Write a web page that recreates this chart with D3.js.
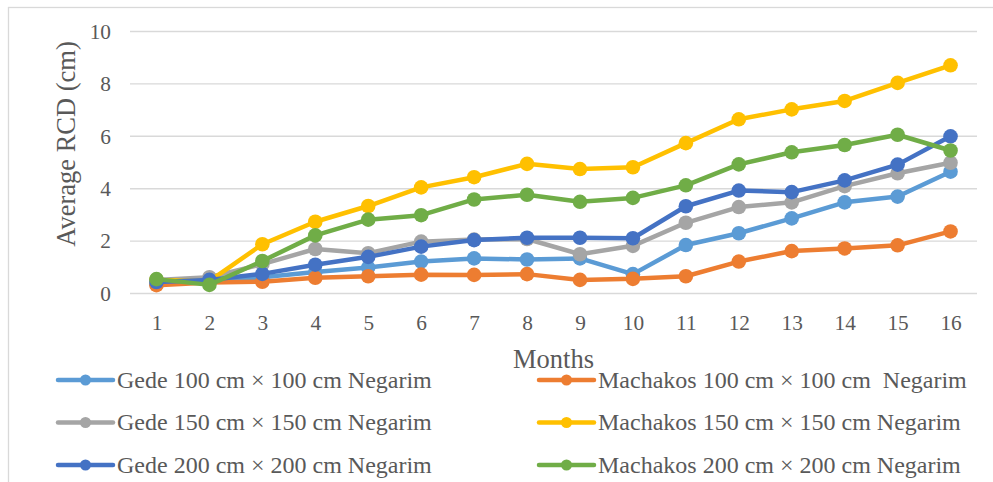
<!DOCTYPE html>
<html>
<head>
<meta charset="utf-8" />
<title>Average RCD</title>
<script src="https://cdnjs.cloudflare.com/ajax/libs/d3/7.8.5/d3.min.js"></script>
<style>
  body { margin: 0; background: #fff; }
  svg text { font-family: "Liberation Serif", "Times New Roman", serif; fill: #595959; }
</style>
</head>
<body>
<svg id="chart" width="993" height="482"></svg>
<script>
  // data
  const months = ['1','2','3','4','5','6','7','8','9','10','11','12','13','14','15','16']
  const yTicks = [0, 2, 4, 6, 8, 10]

  const gede100     = [0.35, 0.45, 0.6, 0.8, 0.97, 1.2, 1.32, 1.28, 1.32, 0.72, 1.83, 2.28, 2.85, 3.46, 3.68, 4.63]
  const machakos100 = [0.3, 0.4, 0.43, 0.58, 0.64, 0.7, 0.69, 0.72, 0.5, 0.54, 0.64, 1.2, 1.6, 1.7, 1.82, 2.35]
  const gede150     = [0.5, 0.6, 1.1, 1.68, 1.52, 1.96, 2.04, 2.06, 1.48, 1.8, 2.68, 3.28, 3.46, 4.08, 4.57, 4.97]
  const machakos150 = [0.5, 0.45, 1.86, 2.72, 3.32, 4.03, 4.42, 4.93, 4.73, 4.8, 5.72, 6.63, 7.01, 7.33, 8.02, 8.69]
  const gede200     = [0.42, 0.5, 0.73, 1.08, 1.38, 1.77, 2.02, 2.11, 2.11, 2.09, 3.31, 3.91, 3.85, 4.3, 4.9, 5.98]
  const machakos200 = [0.53, 0.31, 1.22, 2.2, 2.8, 2.97, 3.57, 3.75, 3.48, 3.63, 4.11, 4.91, 5.37, 5.65, 6.04, 5.44]

  const seriesNames = [
    'Gede 100 cm \u00d7 100 cm Negarim',
    'Machakos 100 cm \u00d7 100 cm  Negarim',
    'Gede 150 cm \u00d7 150 cm Negarim',
    'Machakos 150 cm \u00d7 150 cm Negarim',
    'Gede 200 cm \u00d7 200 cm Negarim',
    'Machakos 200 cm \u00d7 200 cm Negarim'
  ]
  const seriesValues = [gede100, machakos100, gede150, machakos150, gede200, machakos200]
  const seriesColors = ['#5B9BD5', '#ED7D31', '#A5A5A5', '#FFC000', '#4472C4', '#70AD47']

  const svg = d3.select('#chart')

  // chart area frame (runs off the right and bottom edge)
  svg.append('rect')
    .attr('x', 8.5).attr('y', 7.5)
    .attr('width', 1100).attr('height', 600)
    .attr('fill', '#fff').attr('stroke', '#d9d9d9').attr('stroke-width', 1.3)

  const plotLeft = 130, plotRight = 977, plotTop = 31, plotBottom = 293

  let xScale = d3.scalePoint().domain(months).range([plotLeft, plotRight]).padding(0.5)
  let yScale = d3.scaleLinear().domain([0, 10]).range([plotBottom, plotTop])

  let yAxis = d3.axisLeft(yScale).tickValues(yTicks).tickSize(-(plotRight - plotLeft)).tickPadding(19)
  let gy = svg.append('g').attr('transform', 'translate(' + plotLeft + ',0)').call(yAxis)
  gy.select('.domain').remove()
  gy.selectAll('line').attr('stroke', '#d9d9d9').attr('stroke-width', 1.4)
  gy.selectAll('text').style('font-size', '21.3px').attr('dy', '0.34em')

  let xAxis = d3.axisBottom(xScale).tickSize(0).tickPadding(22)
  let gx = svg.append('g').attr('transform', 'translate(0,' + plotBottom + ')').call(xAxis)
  gx.select('.domain').remove()
  gx.selectAll('text').style('font-size', '21.3px')

  // axis titles
  svg.append('text')
    .attr('transform', 'translate(75,144) rotate(-90)')
    .attr('text-anchor', 'middle')
    .style('font-size', '26.5px')
    .text('Average RCD (cm)')

  svg.append('text')
    .attr('x', (plotLeft + plotRight) / 2).attr('y', 368)
    .attr('text-anchor', 'middle')
    .style('font-size', '26.5px')
    .text('Months')

  // series
  let line = d3.line()
    .x(function(d, i) { return xScale(months[i]) })
    .y(function(d) { return yScale(d) })

  seriesValues.forEach(function(vals, s) {
    let g = svg.append('g')
    g.append('path')
      .attr('d', line(vals))
      .attr('fill', 'none')
      .attr('stroke', seriesColors[s])
      .attr('stroke-width', 4.5)
      .attr('stroke-linejoin', 'round')
      .attr('stroke-linecap', 'round')
    g.selectAll('circle').data(vals).enter().append('circle')
      .attr('cx', function(d, i) { return xScale(months[i]) })
      .attr('cy', function(d) { return yScale(d) })
      .attr('r', 7.3)
      .attr('fill', seriesColors[s])
  })

  // legend, two columns
  let colX = [58, 539]
  let rowY = [380, 422.5, 465]
  seriesNames.forEach(function(name, s) {
    let x0 = colX[s % 2], y0 = rowY[Math.floor(s / 2)]
    let g = svg.append('g').attr('transform', 'translate(' + x0 + ',' + y0 + ')')
    g.append('line')
      .attr('x1', 0).attr('x2', 55)
      .attr('stroke', seriesColors[s]).attr('stroke-width', 4.5)
      .attr('stroke-linecap', 'round')
    g.append('circle').attr('cx', 27.5).attr('r', 5.5).attr('fill', seriesColors[s])
    g.append('text')
      .attr('x', 59).attr('dy', '0.33em')
      .style('font-size', '24px')
      .style('white-space', 'pre')
      .text(name)
  })
</script>
</body>
</html>
